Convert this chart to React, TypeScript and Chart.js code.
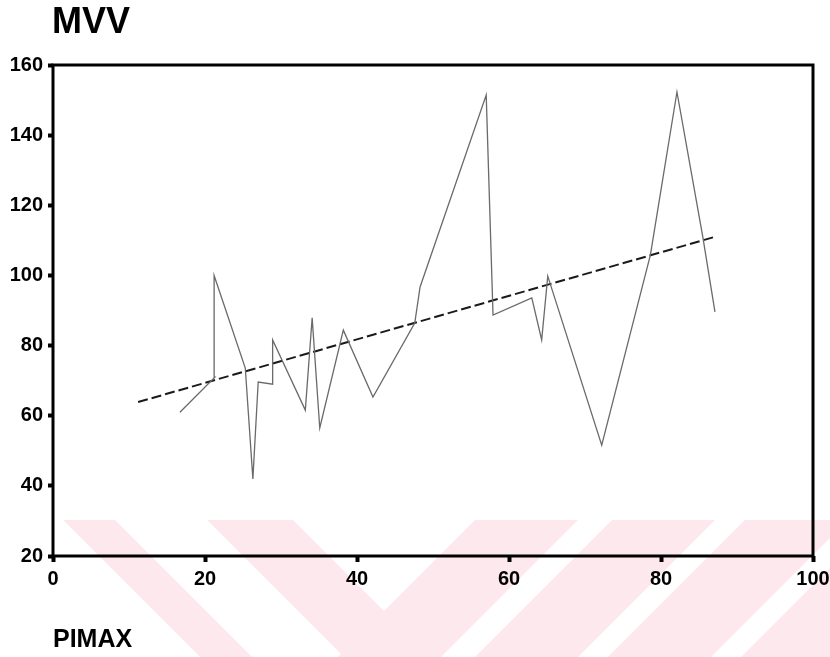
import React, { useEffect, useRef } from 'react';
import { Chart, registerables } from 'chart.js';

Chart.register(...registerables);

// Observed PIMAX / MVV series (connected in recorded order)
const pimax = [16.7, 21.3, 21.2, 25.3, 26.3, 27.0, 28.9, 28.9, 33.2, 34.1, 35.1, 38.2, 42.1, 47.6, 48.3, 57.0, 57.9, 63.0, 64.3, 65.1, 72.2, 78.6, 82.1, 85.5, 87.1];
const mvv = [61, 71, 100, 73.6, 42, 69.6, 69, 81.6, 61.6, 87.9, 56.5, 84.4, 65.3, 86.4, 96.7, 151.4, 88.7, 93.6, 81.6, 99.8, 51.6, 105.8, 152.3, 111, 89.6];

// Fitted regression line end points
const fitX = [11.2, 87.1];
const fitY = [63.9, 111.0];

const xTicks = [0, 20, 40, 60, 80, 100];
const yTicks = [20, 40, 60, 80, 100, 120, 140, 160];

const titleText = 'MVV';
const xTitleText = 'PIMAX';

const FONT = '"Liberation Sans", Arial, Helvetica, sans-serif';

const watermarkPlugin = {
  id: 'watermark',
  beforeDraw(chart: any) {
    const ctx = chart.ctx;
    const y0 = 520;
    const y1 = chart.height;
    const t = y1 - y0;
    ctx.save();
    ctx.fillStyle = '#fde9ed';
    const back: [number, number][] = [[63, 115], [207, 293]];
    const fwd: [number, number][] = [[475, 578], [612, 715], [745, 848], [878, 980]];
    back.forEach(([a, b]) => {
      ctx.beginPath();
      ctx.moveTo(a, y0); ctx.lineTo(b, y0); ctx.lineTo(b + t, y1); ctx.lineTo(a + t, y1);
      ctx.closePath(); ctx.fill();
    });
    fwd.forEach(([a, b]) => {
      ctx.beginPath();
      ctx.moveTo(a, y0); ctx.lineTo(b, y0); ctx.lineTo(b - t, y1); ctx.lineTo(a - t, y1);
      ctx.closePath(); ctx.fill();
    });
    ctx.restore();
  },
};

const framePlugin = {
  id: 'frame',
  afterDatasetsDraw(chart: any) {
    const { left, right, top, bottom } = chart.chartArea;
    const ctx = chart.ctx;
    ctx.save();
    ctx.strokeStyle = '#000';
    ctx.lineWidth = 3;
    ctx.strokeRect(left, top, right - left, bottom - top);
    ctx.restore();
  },
  afterDraw(chart: any) {
    const ctx = chart.ctx;
    ctx.save();
    ctx.fillStyle = '#000';
    ctx.textBaseline = 'alphabetic';
    ctx.textAlign = 'left';
    ctx.font = `bold 36px ${FONT}`;
    ctx.fillText(titleText, 52, 33);
    ctx.font = `bold 25px ${FONT}`;
    ctx.fillText(xTitleText, 53, 647);
    ctx.restore();
  },
};

export default function App() {
  const ref = useRef<HTMLCanvasElement | null>(null);

  useEffect(() => {
    if (!ref.current) return;
    const chart = new Chart(ref.current, {
      type: 'scatter',
      data: {
        datasets: [
          {
            label: 'MVV',
            data: pimax.map((x, i) => ({ x, y: mvv[i] })),
            showLine: true,
            borderColor: '#6a6a6a',
            borderWidth: 1.3,
            pointRadius: 0,
            tension: 0,
          },
          {
            label: 'Fit',
            data: fitX.map((x, i) => ({ x, y: fitY[i] })),
            showLine: true,
            borderColor: '#1a1a1a',
            borderWidth: 2,
            borderDash: [10, 4],
            pointRadius: 0,
          },
        ],
      },
      options: {
        animation: false,
        responsive: false,
        layout: { padding: { left: 0, right: 17, top: 65, bottom: 0 } },
        plugins: { legend: { display: false }, tooltip: { enabled: false }, title: { display: false } },
        scales: {
          x: {
            type: 'linear',
            min: 0,
            max: 100,
            afterBuildTicks: (s: any) => { s.ticks = xTicks.map((v) => ({ value: v })); },
            afterFit: (s: any) => { s.height = 101; s.paddingLeft = 0; s.paddingRight = 0; },
            border: { display: false },
            grid: { drawOnChartArea: false, drawTicks: true, tickLength: 6, tickWidth: 4, tickColor: '#000' },
            ticks: { color: '#000', padding: 5, maxRotation: 0, font: { family: FONT, size: 20, weight: 'bold' } },
          },
          y: {
            type: 'linear',
            min: 20,
            max: 160,
            afterBuildTicks: (s: any) => { s.ticks = yTicks.map((v) => ({ value: v })); },
            afterFit: (s: any) => { s.width = 53; s.paddingTop = 0; s.paddingBottom = 0; },
            border: { display: false },
            grid: { drawOnChartArea: false, drawTicks: true, tickLength: 5, tickWidth: 4, tickColor: '#000' },
            ticks: { color: '#000', padding: 5, font: { family: FONT, size: 20, weight: 'bold' } },
          },
        },
      },
      plugins: [watermarkPlugin, framePlugin],
    });
    return () => chart.destroy();
  }, []);

  return (
    <div style={{ position: 'absolute', left: 0, top: 0, width: 830, height: 657, background: '#fff' }}>
      <canvas ref={ref} width={830} height={657} style={{ display: 'block' }} />
    </div>
  );
}
